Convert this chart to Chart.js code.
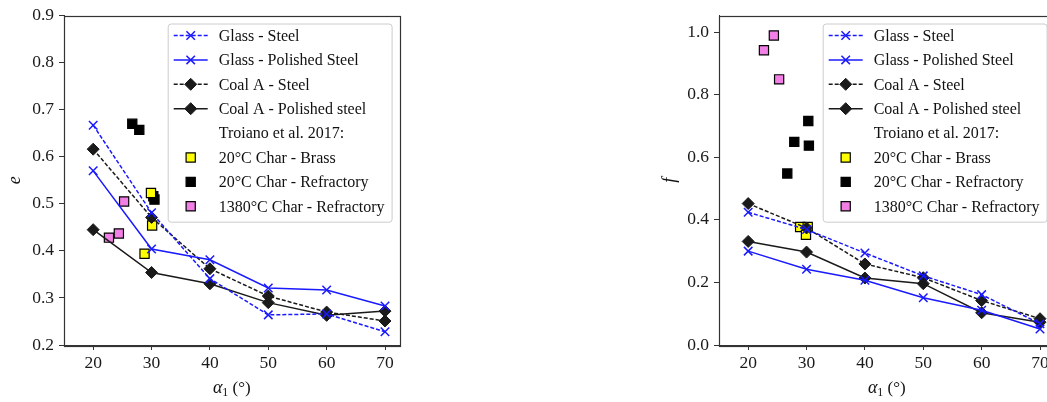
<!DOCTYPE html>
<html>
<head>
<meta charset="utf-8">
<script src="https://cdn.jsdelivr.net/npm/chart.js@4.4.0/dist/chart.umd.min.js"></script>
<style>
  html, body { margin: 0; padding: 0; background: #fff; overflow: hidden; }
  body { width: 1047px; height: 402px; position: relative; }
  canvas { position: absolute; top: 0; }
  #chartE { left: 0; }
  #chartF { left: 655px; }
</style>
</head>
<body>
<canvas id="chartE" width="420" height="402"></canvas>
<canvas id="chartF" width="420" height="402"></canvas>
<script>
// incidence angle of the measurements
const angles = [20, 30, 40, 50, 60, 70];
const xTicks = [20, 30, 40, 50, 60, 70];
const eTicks = [0.2, 0.3, 0.4, 0.5, 0.6, 0.7, 0.8, 0.9];
const fTicks = [0.0, 0.2, 0.4, 0.6, 0.8, 1.0];

// restitution coefficient e
const eGlassSteel = [0.667, 0.481, 0.341, 0.264, 0.266, 0.228];
const eGlassPolished = [0.570, 0.404, 0.381, 0.321, 0.317, 0.283];
const eCoalSteel = [0.616, 0.471, 0.362, 0.304, 0.270, 0.251];
const eCoalPolished = [0.445, 0.354, 0.330, 0.290, 0.263, 0.272];

// friction coefficient f
const fGlassSteel = [0.424, 0.369, 0.294, 0.221, 0.161, 0.068];
const fGlassPolished = [0.300, 0.242, 0.207, 0.151, 0.111, 0.051];
const fCoalSteel = [0.452, 0.374, 0.259, 0.215, 0.142, 0.084];
const fCoalPolished = [0.331, 0.297, 0.214, 0.196, 0.103, 0.073];

// Troiano et al. 2017
const brassX = [28.8, 29.9, 30.1];
const eBrassY = [0.394, 0.523, 0.454];
const fBrassX = [28.9, 30.2, 29.9];
const fBrassY = [0.377, 0.377, 0.352];
const refrX = [26.7, 27.9, 30.3, 30.5];
const eRefrY = [0.670, 0.657, 0.516, 0.509];
const fRefrX = [26.7, 27.9, 30.3, 30.4];
const fRefrY = [0.548, 0.649, 0.716, 0.637];
const hotX = [22.7, 24.4, 25.3];
const eHotY = [0.428, 0.437, 0.505];
const fHotY = [0.942, 0.989, 0.849];

const SERIF = '"Liberation Serif", "Times New Roman", serif';
const BLUE = '#1a1aff';
const BLACK = '#1a1a1a';

function pts(xs, ys) { return xs.map((x, i) => ({x: x, y: ys[i]})); }

function lineSet(label, ys, color, dashed, marker) {
    return {
        label: label,
        data: pts(angles, ys),
        showLine: true,
        borderColor: color,
        backgroundColor: color,
        borderWidth: 1.5,
        borderDash: dashed ? [4, 2] : [],
        pointStyle: marker,
        pointRadius: 6,
        pointBorderWidth: marker === 'crossRot' ? 1.5 : 1,
        pointBorderColor: color,
        pointBackgroundColor: color,
        tension: 0
    };
}

function squareSet(label, xs, ys, fill) {
    return {
        label: label,
        data: pts(xs, ys),
        showLine: false,
        pointStyle: 'rect',
        pointRadius: 6.5,
        pointBorderWidth: 1.2,
        pointBorderColor: '#000',
        pointBackgroundColor: fill,
        borderColor: '#000',
        backgroundColor: fill
    };
}

function headerSet(label) {
    return { label: label, data: [], showLine: false, pointRadius: 0, isHeader: true };
}

// spines, legend and x title drawn on top of the data
const decorations = {
    id: 'decorations',
    afterDatasetsDraw(chart) {
        const ctx = chart.ctx, a = chart.chartArea;
        ctx.save();
        ctx.strokeStyle = '#333';
        ctx.lineWidth = 1.2;
        ctx.strokeRect(Math.round(a.left) + 0.5, Math.round(a.top) + 0.5,
            Math.round(a.right - a.left), Math.round(a.bottom - a.top));

        // legend
        const sets = chart.data.datasets;
        ctx.font = '16px ' + SERIF;
        const textW = Math.max(...sets.map(d => ctx.measureText(d.label).width));
        const rowH = 24.4;
        const w = 51 + textW + 7, h = rowH * sets.length + 3;
        const x0 = a.right - 8 - w, y0 = a.top + 8;
        ctx.fillStyle = 'rgba(255,255,255,0.8)';
        ctx.strokeStyle = '#cccccc';
        ctx.lineWidth = 1;
        ctx.beginPath();
        ctx.roundRect(x0 + 0.5, y0 + 0.5, w, h, 3);
        ctx.fill();
        ctx.stroke();
        sets.forEach((d, i) => {
            const cy = y0 + 12 + i * rowH;
            if (d.showLine) {
                ctx.strokeStyle = d.borderColor;
                ctx.lineWidth = d.borderWidth;
                ctx.setLineDash(d.borderDash);
                ctx.beginPath();
                ctx.moveTo(x0 + 6, cy);
                ctx.lineTo(x0 + 40, cy);
                ctx.stroke();
                ctx.setLineDash([]);
            }
            if (!d.isHeader) {
                ctx.fillStyle = d.pointBackgroundColor;
                ctx.strokeStyle = d.pointBorderColor;
                ctx.lineWidth = d.pointBorderWidth;
                Chart.helpers.drawPoint(ctx, {
                    pointStyle: d.pointStyle, radius: d.pointRadius,
                    borderWidth: d.pointBorderWidth, rotation: 0
                }, x0 + 23, cy);
            }
            ctx.fillStyle = '#111';
            ctx.textBaseline = 'middle';
            ctx.textAlign = 'left';
            ctx.fillText(d.label, x0 + 51, cy + 1);
        });

        // x axis title: alpha_1 (deg)
        const cx = (a.left + a.right) / 2, ty = 393;
        const p1 = 'α', p2 = '1', p3 = ' (°)';
        ctx.textBaseline = 'alphabetic';
        ctx.font = 'italic 18px ' + SERIF;
        const w1 = ctx.measureText(p1).width;
        ctx.font = '12px ' + SERIF;
        const w2 = ctx.measureText(p2).width;
        ctx.font = '17px ' + SERIF;
        const w3 = ctx.measureText(p3).width;
        let tx = cx - (w1 + w2 + w3) / 2;
        ctx.fillStyle = '#111';
        ctx.font = 'italic 18px ' + SERIF;
        ctx.fillText(p1, tx, ty);
        tx += w1;
        ctx.font = '12px ' + SERIF;
        ctx.fillText(p2, tx, ty + 3);
        tx += w2;
        ctx.font = '17px ' + SERIF;
        ctx.fillText(p3, tx, ty);
        ctx.restore();
    }
};

function makeChart(id, datasets, yMin, yMax, yTicks, yTitle, padTop) {
    const tickFont = { family: SERIF, size: 17.5 };
    return new Chart(document.getElementById(id), {
        type: 'line',
        data: { datasets: datasets },
        plugins: [decorations],
        options: {
            responsive: false,
            animation: false,
            layout: { padding: { top: padTop, right: 20.4, left: 0, bottom: 0 } },
            plugins: { legend: { display: false }, tooltip: { enabled: false } },
            scales: {
                x: {
                    type: 'linear', min: 15, max: 72.5,
                    afterBuildTicks: s => { s.ticks = xTicks.map(v => ({ value: v })); },
                    afterFit: s => { s.height = 402 - 345; },
                    grid: { drawOnChartArea: false, drawTicks: true, tickLength: 5, color: '#333' },
                    border: { display: true, color: '#333' },
                    ticks: { font: tickFont, color: '#1a1a1a', padding: 3, maxRotation: 0, callback: v => String(v) }
                },
                y: {
                    type: 'linear', min: yMin, max: yMax,
                    afterBuildTicks: s => { s.ticks = yTicks.map(v => ({ value: v })); },
                    afterFit: s => { s.width = 64; },
                    grid: { drawOnChartArea: false, drawTicks: true, tickLength: 5, color: '#333' },
                    border: { display: true, color: '#333' },
                    ticks: { font: tickFont, color: '#1a1a1a', padding: 5, callback: v => v.toFixed(1) },
                    title: { display: true, text: yTitle, color: '#111',
                        font: { family: SERIF, size: 18, style: 'italic' }, padding: { top: 4 } }
                }
            }
        }
    });
}

makeChart('chartE', [
    lineSet('Glass - Steel', eGlassSteel, BLUE, true, 'crossRot'),
    lineSet('Glass - Polished Steel', eGlassPolished, BLUE, false, 'crossRot'),
    lineSet('Coal A - Steel', eCoalSteel, BLACK, true, 'rectRot'),
    lineSet('Coal A - Polished steel', eCoalPolished, BLACK, false, 'rectRot'),
    headerSet('Troiano et al. 2017:'),
    squareSet('20°C Char - Brass', brassX, eBrassY, '#ffff00'),
    squareSet('20°C Char - Refractory', refrX, eRefrY, '#000000'),
    squareSet('1380°C Char - Refractory', hotX, eHotY, '#f27fe6')
], 0.2, 0.9, eTicks, 'e', 15);

makeChart('chartF', [
    lineSet('Glass - Steel', fGlassSteel, BLUE, true, 'crossRot'),
    lineSet('Glass - Polished Steel', fGlassPolished, BLUE, false, 'crossRot'),
    lineSet('Coal A - Steel', fCoalSteel, BLACK, true, 'rectRot'),
    lineSet('Coal A - Polished steel', fCoalPolished, BLACK, false, 'rectRot'),
    headerSet('Troiano et al. 2017:'),
    squareSet('20°C Char - Brass', fBrassX, fBrassY, '#ffff00'),
    squareSet('20°C Char - Refractory', fRefrX, fRefrY, '#000000'),
    squareSet('1380°C Char - Refractory', hotX, fHotY, '#f27fe6')
], 0.0, 1.053, fTicks, 'f', 7);
</script>
</body>
</html>
